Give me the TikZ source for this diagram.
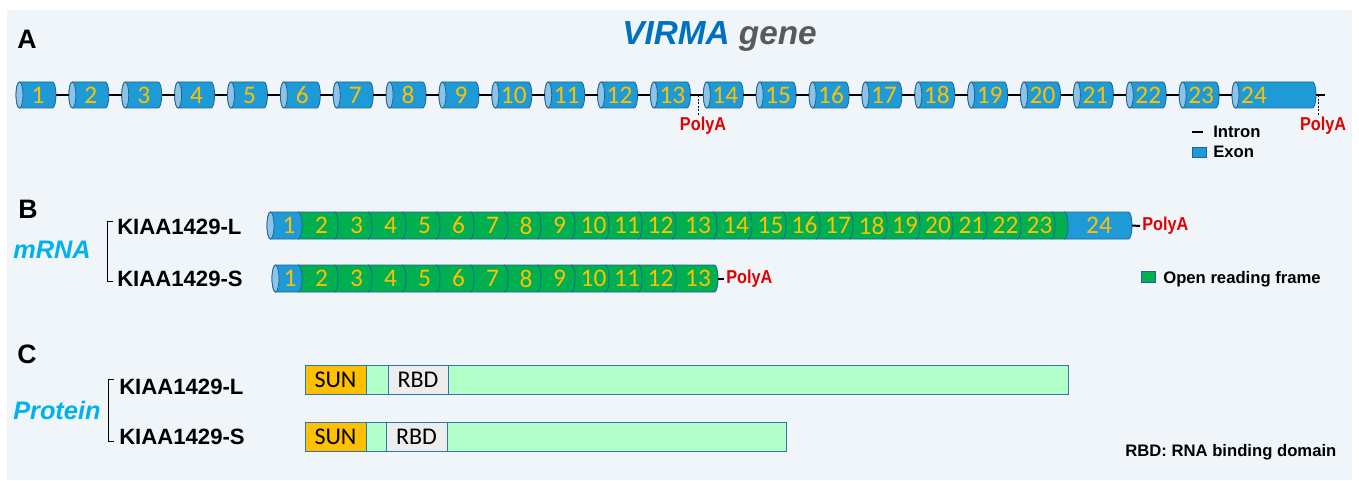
\documentclass[tikz,border=0pt]{standalone}
\usepackage{fontspec}
\setmainfont{Liberation Sans}
\newfontfamily\calib{Carlito}
\newfontfamily\narrowsans[FakeStretch=0.87]{Liberation Sans}
\usetikzlibrary{calc}
\definecolor{bgpanel}{HTML}{F0F5FA}
\definecolor{exblue}{HTML}{1E9BD7}
\definecolor{excap}{HTML}{8CC3E6}
\definecolor{exline}{HTML}{1F6496}
\definecolor{orfgreen}{HTML}{00B050}
\definecolor{numyellow}{HTML}{FFC000}
\definecolor{titleblue}{HTML}{0070C0}
\definecolor{titlegrey}{HTML}{595959}
\definecolor{cyanlbl}{HTML}{00B0F0}
\definecolor{polyred}{HTML}{E00000}
\definecolor{protgreen}{HTML}{B3FFCA}
\definecolor{protline}{HTML}{2E75B6}
\definecolor{rbdgrey}{HTML}{EDEDED}
\definecolor{sunorange}{HTML}{FFC000}

\tikzset{
  cylbody/.style={draw=exline,line width=0.6pt},
  cylcap/.style={draw=exline,line width=0.6pt,fill=excap},
  exonbox/.style={rectangle,inner sep=0pt,outer sep=0pt,draw=none},
  num/.style={inner sep=0pt,text=numyellow,font=\calib\fontsize{19}{19}\selectfont},
  intron/.style={line width=1.5pt,black},
  polydash/.style={line width=0.75pt,black,dash pattern=on 1.5pt off 1.2pt},
  polya/.style={inner sep=1.5pt,text=polyred,font=\narrowsans\bfseries\fontsize{14}{14}\selectfont},
  panel/.style={inner sep=0pt,font=\bfseries\fontsize{20}{20}\selectfont,anchor=base west},
  cyanlab/.style={inner sep=0pt,text=cyanlbl,font=\bfseries\itshape\fontsize{19}{19}\selectfont,anchor=base west},
  isolab/.style={inner sep=0pt,font=\bfseries\fontsize{16.6}{16.6}\selectfont,anchor=base west},
  legtext/.style={inner sep=0pt,font=\bfseries\fontsize{12.5}{12.5}\selectfont,anchor=base west},
  bracket/.style={line width=0.75pt,black},
  prot/.style={rectangle,draw=protline,line width=0.75pt,inner sep=0pt,outer sep=0pt,anchor=west,
    minimum height=21.75pt,font=\calib\fontsize{18}{18}\selectfont,text=black},
}

\newcommand\hh{13}
% #1 name, #2 x0, #3 x1, #4 yc, #5 fill, #6 label, #7 label x, #8 cap
\newcommand\cyl[8]{%
  \pgfmathsetmacro\cw{(#3-#2)*0.75}%
  \pgfmathsetmacro\chy{\hh*0.75}%
  \pgfmathsetmacro\chh{\hh*1.5}%
  \pgfmathsetmacro\cxa{#2+3.5}%
  \pgfmathsetmacro\cxb{#3-3.5}%
  \pgfmathsetmacro\cyb{#4+\hh}%
  \pgfmathsetmacro\cyt{#4-\hh}%
  \pgfmathsetmacro\cxm{(#2+#3)/2}%
  \filldraw[cylbody,fill=#5] (\cxa,\cyb) -- (\cxb,\cyb)
     arc[start angle=-90,end angle=90,x radius=2.625pt,y radius=\chy pt]
     -- (\cxa,\cyt)
     arc[start angle=90,end angle=270,x radius=2.625pt,y radius=\chy pt] -- cycle;
  \ifnum#8=1 \filldraw[cylcap] (\cxa,#4) ellipse[x radius=2.625pt,y radius=\chy pt];\fi
  \node[exonbox,minimum width=\cw pt,minimum height=\chh pt] (#1) at (\cxm,#4) {};
  \node[num] (#1-t) at (#7,#4) {#6};
}

\begin{document}
\begin{tikzpicture}[x=0.75pt,y=-0.75pt]
\useasboundingbox (0,0) rectangle (1359,481);
\fill[white] (0,0) rectangle (1359,481);
\fill[bgpanel] (7,10) rectangle (1352,480);

% ---------------- A ----------------
\node[panel] (lA) at (17,49) {A};
\node[inner sep=0pt,anchor=base west,font=\bfseries\itshape\fontsize{25}{25}\selectfont] (title) at (622,45)
  {\textcolor{titleblue}{VIRMA} \textcolor{titlegrey}{gene}};

\foreach \i in {1,...,23}{%
  \pgfmathsetmacro\xa{16+(\i-1)*52.87}%
  \pgfmathsetmacro\xb{\xa+40}%
  \pgfmathsetmacro\xt{\xa+22}%
  \cyl{a\i}{\xa}{\xb}{95}{exblue}{\i}{\xt}{1}%
}
\cyl{a24}{1232}{1316}{95}{exblue}{24}{1254}{1}

\foreach \i in {1,...,23}{%
  \pgfmathtruncatemacro\j{\i+1}%
  \draw[intron] (a\i.east) -- (a\j.west);%
}
\coordinate (aend) at (1325,95);
\draw[intron] (a24.east) -- (aend);

\coordinate (pa1) at (698,95);
\node[polya,anchor=base] (pa1t) at (703,131) {PolyA};
\draw[polydash] (pa1) -- (pa1 |- pa1t.north);
\coordinate (pa2) at (1318,95);
\node[polya,anchor=base] (pa2t) at (1323,131) {PolyA};
\draw[polydash] (pa2) -- (pa2 |- pa2t.north);

\node[legtext] (lint) at (1213,138) {Intron};
\draw[line width=1.5pt] (1192,132.5) -- (1203,132.5);
\node[rectangle,draw=exline,line width=0.6pt,fill=exblue,inner sep=0pt,minimum width=10.5pt,minimum height=7.5pt] (lexsq) at (1199,152.5) {};
\node[legtext] (lex) at (1213,158) {Exon};

% ---------------- B ----------------
\node[panel] (lB) at (18,218) {B};
\node[cyanlab] (mrna) at (13,258) {mRNA};
\node[isolab] (bLlab) at (117,234) {KIAA1429-L};
\node[isolab] (bSlab) at (117,286) {KIAA1429-S};
\draw[bracket] ([shift={(-4,3)}]bLlab.north west) -- ++(-6,0) |- ([shift={(-4,-5)}]bSlab.south west);

\renewcommand\hh{13.5}
% long transcript (drawn right to left)
\cyl{bL24}{1061}{1132}{225.5}{exblue}{24}{1099}{0}
\cyl{bLx}{1048}{1068}{225.5}{orfgreen}{}{1061}{0}
\foreach \n/\a/\b in {23/1021/1055,22/987/1021,21/953/987,20/920/953,19/887/920,18/853/887,
  17/820/853,16/786/820,15/752/786,14/717/752,13/676/717,12/642/676,11/609/642,10/575/609,
  9/541/575,8/508/541,7/474/508,6/440/474,5/406/440,4/372/406,3/338/372,2/302/338}{%
  \pgfmathsetmacro\xa{\a-7}%
  \pgfmathsetmacro\xt{(\a+\b)/2+1.5}%
  \cyl{bL\n}{\xa}{\b}{225.5}{orfgreen}{\n}{\xt}{0}%
}
\cyl{bL1}{267}{302}{225.5}{exblue}{1}{289}{1}
\node[polya,anchor=west] (pLA) at (1140,226) {PolyA};
\draw[intron] (bL24.east) -- (pLA.west);

% short transcript
\cyl{bS13}{669}{718}{278.5}{orfgreen}{13}{698}{0}
\foreach \n/\a/\b in {12/642/676,11/609/642,10/575/609,
  9/541/575,8/508/541,7/474/508,6/440/474,5/406/440,4/372/406,3/338/372,2/302/338}{%
  \pgfmathsetmacro\xa{\a-7}%
  \pgfmathsetmacro\xt{(\a+\b)/2+1.5}%
  \cyl{bS\n}{\xa}{\b}{278.5}{orfgreen}{\n}{\xt}{0}%
}
\cyl{bS1}{272}{302}{278.5}{exblue}{1}{290}{1}
\node[polya,anchor=west] (pSA) at (724,278.5) {PolyA};
\draw[intron] (bS13.east) -- (pSA.west);

\node[rectangle,draw=exline,line width=0.6pt,fill=orfgreen,inner sep=0pt,minimum width=10.5pt,minimum height=8.25pt] (lorf) at (1148,276.5) {};
\node[legtext] (lorft) at (1163,283) {Open reading frame};

% ---------------- C ----------------
\node[panel] (lC) at (17,363) {C};
\node[cyanlab] (prot) at (13,419) {Protein};
\node[isolab] (cLlab) at (119,394) {KIAA1429-L};
\node[isolab] (cSlab) at (119,444) {KIAA1429-S};
\draw[bracket] ([shift={(-5,1)}]cLlab.north west) -- ++(-6,0) |- ([shift={(-5,-3)}]cSlab.south west);

\node[prot,fill=protgreen,minimum width=572.25pt] (pL) at (305,379.5) {};
\node[prot,fill=sunorange,minimum width=45.75pt] (pLsun) at (305,379.5) {SUN};
\node[prot,fill=rbdgrey,minimum width=45pt] (pLrbd) at (388,379.5) {RBD};

\node[prot,fill=protgreen,minimum width=360.75pt] (pS) at (305,436.5) {};
\node[prot,fill=sunorange,minimum width=45.75pt] (pSsun) at (305,436.5) {SUN};
\node[prot,fill=rbdgrey,minimum width=45.75pt] (pSrbd) at (386,436.5) {RBD};

\node[legtext] (rbdleg) at (1125,456) {RBD: RNA binding domain};
\end{tikzpicture}
\end{document}
